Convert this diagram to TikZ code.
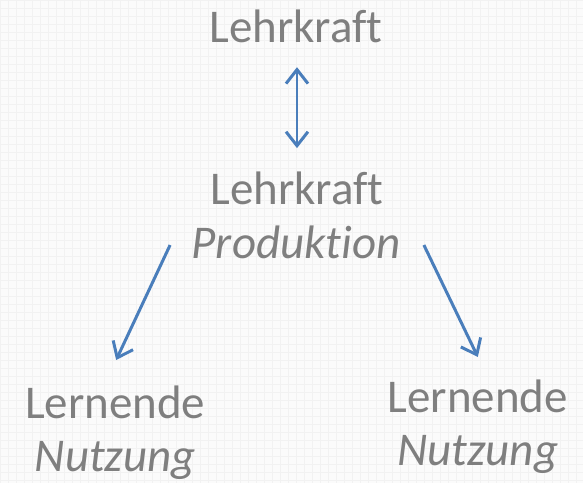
\documentclass[tikz,border=0pt]{standalone}
\usepackage{fontspec}
\setmainfont{Carlito}[Ligatures=CommonOff]
\usetikzlibrary{arrows.meta}
\definecolor{txtgrey}{HTML}{7F7F7F}
\definecolor{arrblue}{HTML}{4A7EBB}
\definecolor{bggrey}{HTML}{FBFBFB}
\definecolor{gridgrey}{HTML}{F2F2F2}
\tikzset{
  lbl/.style={text=txtgrey, font=\fontsize{47}{56}\selectfont, align=center, inner sep=0pt, anchor=base},
  conn/.style={draw=arrblue, line width=3pt, -{Straight Barb[length=14pt,width=22pt,line width=3pt]}},
  bidir/.style={draw=arrblue, line width=3pt, {Straight Barb[length=14pt,width=22pt,line width=3pt]}-{Straight Barb[length=14pt,width=22pt,line width=3pt]}}
}
\begin{document}
\begin{tikzpicture}[x=1pt,y=-1pt]
\fill[bggrey] (0,0) rectangle (583,483);
\draw[gridgrey, line width=0.5pt, step=8pt] (0,0) grid (583,483);
\useasboundingbox (0,0) rectangle (583,483);
\node[lbl] (top) at (296,42) {Lehrkraft};
\node[lbl] (mid1) at (297,204) {Lehrkraft};
\node[lbl] (mid2) at (296,258) {\itshape Produktion};
\node[lbl] (l1) at (115,419) {Lernende};
\node[lbl] (l2) at (115,472) {\itshape Nutzung};
\node[lbl] (r1) at (478,413) {Lernende};
\node[lbl] (r2) at (478,466) {\itshape Nutzung};
\coordinate (dA) at (297,67);
\coordinate (dB) at (297,148);
\coordinate (la) at (170,245);
\coordinate (lb) at (116,360);
\coordinate (ra) at (424,245);
\coordinate (rb) at (478,357);
\draw[bidir] (dA) -- (dB);
\draw[conn] (la) -- (lb);
\draw[conn] (ra) -- (rb);
\end{tikzpicture}
\end{document}
